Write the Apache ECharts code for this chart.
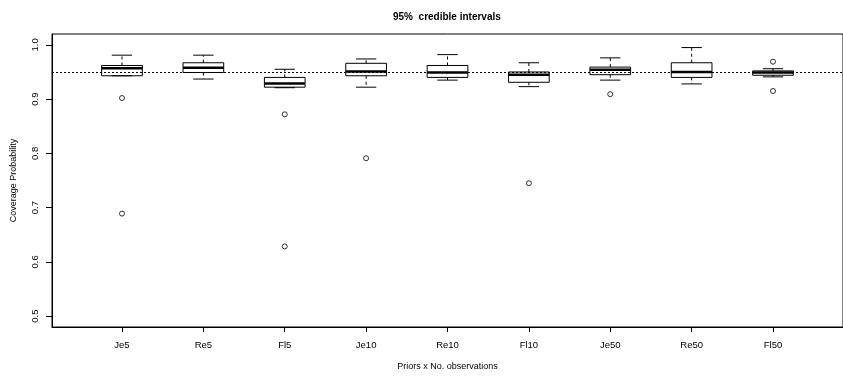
<!DOCTYPE html>
<html>
<head>
<meta charset="utf-8">
<script src="https://cdn.jsdelivr.net/npm/echarts@6/dist/echarts.min.js"></script>
<style>html,body{margin:0;padding:0;background:#fff}#c{width:843px;height:376px}</style>
</head>
<body>
<div id="c"></div>
<script>
// ---- data ----
const categories = ['Je5','Re5','Fl5','Je10','Re10','Fl10','Je50','Re50','Fl50'];
const lowWhisker  = [0.943, 0.937, 0.921, 0.922, 0.935, 0.923, 0.935, 0.928, 0.941];
const q1          = [0.943, 0.949, 0.922, 0.943, 0.940, 0.931, 0.945, 0.940, 0.944];
const median      = [0.957, 0.958, 0.929, 0.951, 0.949, 0.945, 0.954, 0.950, 0.949];
const q3          = [0.962, 0.967, 0.940, 0.966, 0.962, 0.950, 0.959, 0.967, 0.952];
const highWhisker = [0.981, 0.981, 0.955, 0.974, 0.982, 0.967, 0.976, 0.995, 0.956];
const outlierCat  = ['Je5','Je5','Fl5','Fl5','Je10','Fl10','Je50','Fl50','Fl50'];
const outlierVal  = [0.902, 0.689, 0.872, 0.6285, 0.791, 0.745, 0.909, 0.969, 0.915];
const yTicks = [0.5, 0.6, 0.7, 0.8, 0.9, 1.0];
const refLevel = 0.95;

const FONT = 'Liberation Sans, Arial, Helvetica, sans-serif';
const xTicks = categories.map((c, i) => i + 1);
const boxData = categories.map((c, i) => [i + 1, lowWhisker[i], q1[i], median[i], q3[i], highWhisker[i]]);
const outlierData = outlierCat.map((c, i) => [categories.indexOf(c) + 1, outlierVal[i]]);

const chart = echarts.init(document.getElementById('c'), null, {renderer: 'canvas'});
chart.setOption({
  backgroundColor: '#fff',
  animation: false,
  title: {
    text: '95%  credible intervals',
    left: 388, top: 7,
    textStyle: {fontFamily: FONT, fontSize: 10, fontWeight: 'bold', color: '#000'}
  },
  grid: {left: 52, right: -1, top: 34, bottom: 44, show: true, borderColor: '#000', borderWidth: 1, backgroundColor: 'transparent'},
  xAxis: {
    type: 'value', min: 0.14, max: 9.86,
    name: 'Priors x No. observations', nameLocation: 'middle', nameGap: 35,
    nameTextStyle: {fontFamily: FONT, fontSize: 9, color: '#000'},
    axisLine: {show: true, lineStyle: {color: '#000', width: 1}},
    axisTick: {show: true, length: 5, lineStyle: {color: '#000'}, customValues: xTicks},
    axisLabel: {show: true, margin: 13, fontFamily: FONT, fontSize: 9.5, color: '#000',
      customValues: xTicks, formatter: v => categories[Math.round(v) - 1] || ''},
    splitLine: {show: false}
  },
  yAxis: {
    type: 'value', min: 0.48, max: 1.02,
    name: 'Coverage Probability', nameLocation: 'middle', nameGap: 34, nameRotate: 90,
    nameTextStyle: {fontFamily: FONT, fontSize: 9, color: '#000'},
    axisLine: {show: true, lineStyle: {color: '#000', width: 1}},
    axisTick: {show: true, length: 6, lineStyle: {color: '#000'}, customValues: yTicks},
    axisLabel: {show: true, rotate: 90, margin: 12, fontFamily: FONT, fontSize: 9.5, color: '#000',
      customValues: yTicks, formatter: v => v.toFixed(1)},
    splitLine: {show: false}
  },
  series: [
    {
      type: 'custom',
      data: boxData,
      encode: {x: 0, y: [1, 2, 3, 4, 5]},
      renderItem: function (params, api) {
        const x = api.value(0);
        const lo = api.value(1), a = api.value(2), m = api.value(3), b = api.value(4), hi = api.value(5);
        const hw = 0.25, cw = 0.125;
        const pTL = api.coord([x - hw, b]);
        const pBR = api.coord([x + hw, a]);
        const ln = (x1, y1, x2, y2, style) => ({type: 'line', shape: {x1, y1, x2, y2}, style});
        const solid = {stroke: '#000', lineWidth: 1, fill: null};
        const dashed = {stroke: '#000', lineWidth: 1, lineDash: [3, 3], fill: null};
        const c = api.coord([x, 0])[0];
        const yHi = api.coord([x, hi])[1], yLo = api.coord([x, lo])[1];
        const yA = pBR[1], yB = pTL[1];
        const capL = api.coord([x - cw, hi])[0], capR = api.coord([x + cw, hi])[0];
        const yM = api.coord([x, m])[1];
        const children = [];
        if (hi > b) {
          children.push(ln(c, yB, c, yHi, dashed));
        }
        children.push(ln(capL, yHi, capR, yHi, solid));
        if (lo < a) {
          children.push(ln(c, yA, c, yLo, dashed));
        }
        children.push(ln(capL, yLo, capR, yLo, solid));
        children.push({type: 'rect', shape: {x: pTL[0], y: yB, width: pBR[0] - pTL[0], height: yA - yB},
          style: {fill: 'rgba(0,0,0,0)', stroke: '#000', lineWidth: 1}});
        children.push(ln(pTL[0], yM, pBR[0], yM, {stroke: '#000', lineWidth: 2.5}));
        return {type: 'group', children};
      },
      markLine: {
        silent: true, symbol: ['none', 'none'],
        label: {show: false},
        lineStyle: {color: '#000', width: 1, type: [2, 2]},
        data: [{yAxis: refLevel}]
      },
      z: 2
    },
    {
      type: 'scatter',
      data: outlierData,
      symbol: 'circle', symbolSize: 5,
      itemStyle: {color: 'rgba(0,0,0,0)', borderColor: '#000', borderWidth: 1},
      z: 3
    }
  ]
});
</script>
</body>
</html>
